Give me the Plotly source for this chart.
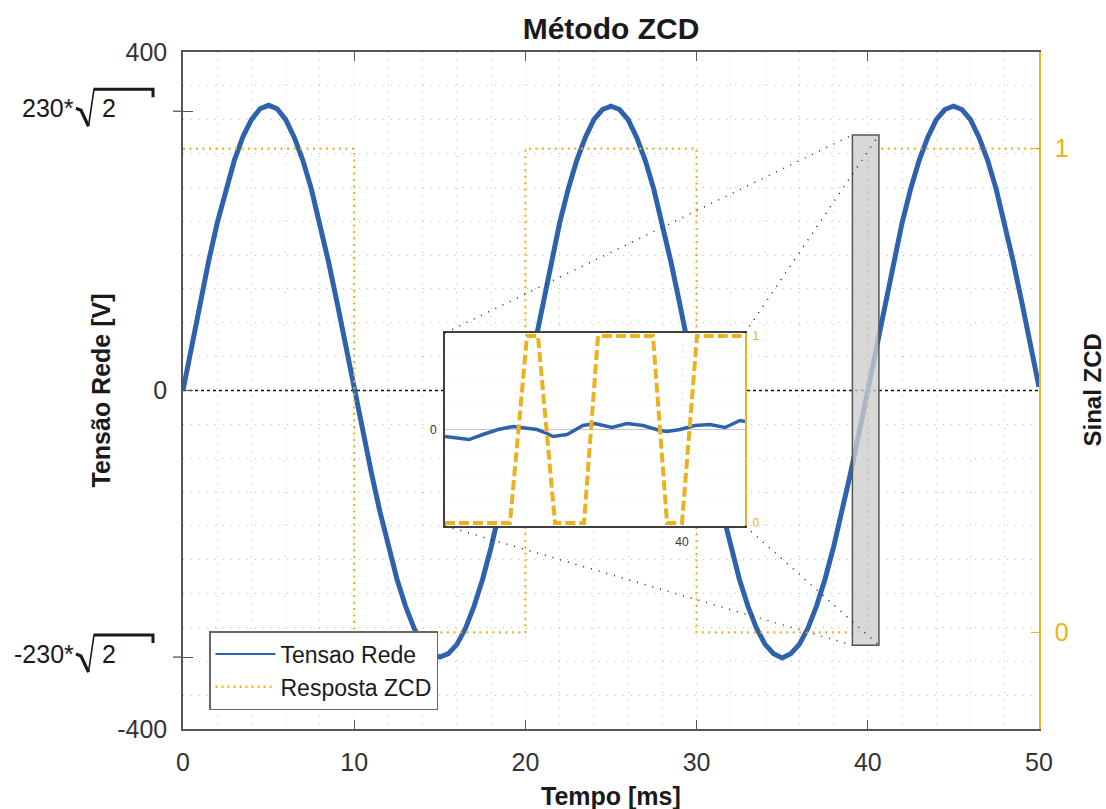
import plotly.graph_objects as go

# ---------------- data ----------------
tempo_ms = [
    0.0, 0.5, 1.0, 1.5, 2.0, 2.5, 3.0, 3.5, 4.0, 4.5, 5.0, 5.5, 6.0, 6.5, 7.0, 7.5, 8.0, 8.5, 9.0, 9.5,
    10.0, 10.5, 11.0, 11.5, 12.0, 12.5, 13.0, 13.5, 14.0, 14.5, 15.0, 15.5, 16.0, 16.5, 17.0, 17.5, 18.0, 18.5, 19.0, 19.5,
    20.0, 20.5, 21.0, 21.5, 22.0, 22.5, 23.0, 23.5, 24.0, 24.5, 25.0, 25.5, 26.0, 26.5, 27.0, 27.5, 28.0, 28.5, 29.0, 29.5,
    30.0, 30.5, 31.0, 31.5, 32.0, 32.5, 33.0, 33.5, 34.0, 34.5, 35.0, 35.5, 36.0, 36.5, 37.0, 37.5, 38.0, 38.5, 39.0, 39.5,
    40.0, 40.5, 41.0, 41.5, 42.0, 42.5, 43.0, 43.5, 44.0, 44.5, 45.0, 45.5, 46.0, 46.5, 47.0, 47.5, 48.0, 48.5, 49.0, 49.5,
    50.0,
]
tensao_rede_v = [
    0, 53, 104, 153, 198, 238, 272, 300, 320, 333, 337, 333, 320, 299, 272, 238, 198, 152, 104, 53,
    0, -49, -97, -143, -185, -223, -255, -281, -300, -311, -315, -311, -300, -281, -255, -223, -185, -143, -97, -49,
    0, 53, 104, 152, 198, 238, 272, 299, 320, 332, 336, 332, 320, 299, 272, 238, 198, 152, 104, 53,
    0, -49, -97, -143, -185, -223, -255, -281, -300, -311, -316, -311, -300, -281, -255, -223, -185, -143, -97, -49,
    0, 53, 104, 152, 198, 238, 272, 299, 320, 332, 336, 332, 320, 299, 272, 238, 198, 152, 104, 53,
    4,
]
zcd_tempo_ms = [0, 10, 10, 20, 20, 30, 30, 40, 40, 50]
zcd_sinal = [1, 1, 0, 0, 1, 1, 0, 0, 1, 1]

# zoomed detail around the 40 ms crossing (inset)
zoom_tempo_rede = [39.9763, 39.9773, 39.9787, 39.9801, 39.9816, 39.9831, 39.9840, 39.9855, 39.9863, 39.9871,
                   39.9885, 39.9901, 39.9913, 39.9930, 39.9945, 39.9961, 39.9978, 39.9985, 39.9998, 40.0013,
                   40.0028, 40.0043, 40.0058, 40.0063]
zoom_tensao_v = [-0.73, -0.83, -1.04, -0.52, 0.0, 0.31, 0.21, 0.0, -0.31, -0.73,
                 -0.52, 0.41, 0.62, 0.21, 0.62, 0.41, -0.10, -0.21, 0.0, 0.41,
                 0.52, 0.21, 0.93, 0.83]
zoom_tempo_zcd = [39.9763, 39.9828, 39.9845, 39.9856, 39.9873, 39.9902, 39.9916, 39.9971, 39.9985, 40.0000,
                  40.0015, 40.0063]
zoom_sinal = [0, 0, 1, 1, 0, 0, 1, 1, 0, 0, 1, 1]

x_tick_vals = [0, 10, 20, 30, 40, 50]
y_tick_vals = [-400, -315, 0, 330, 400]
y_tick_text = ["-400", "", "0", "", "400"]
sqrt_label_vals = [330, -315]
sqrt_label_text = ["230*", "-230*"]
y2_tick_vals = [0, 1]
zoom_x_ticks = [40]
zoom_window_ms = [39.1, 40.65]
zoom_window_v = [-301, 302]

# ---------------- style / layout helpers ----------------
W, H = 1106, 809
L, R, T, B = 183, 1039, 52, 729
FONT = "Liberation Sans, Arial, Helvetica, sans-serif"
BLUE = "#2F62AD"
ORANGE = "#EDB120"
AXC = "#555555"
TXT = "#333333"
GRID = "#c4c4c4"
GDASH = "1px,7px"
YMIN, YMAX = -400, 400


def px_x(px):
    return (px - L) / (R - L)


def px_y(py):
    return (B - py) / (B - T)


def val_to_py(v):
    return B - (v - YMIN) / (YMAX - YMIN) * (B - T)


fig = go.Figure()

# main traces
fig.add_trace(go.Scatter(x=tempo_ms, y=tensao_rede_v, mode="lines", line=dict(color=BLUE, width=5),
                         showlegend=False, xaxis="x", yaxis="y"))
fig.add_trace(go.Scatter(x=zcd_tempo_ms, y=zcd_sinal, mode="lines",
                         line=dict(color=ORANGE, width=2.2, dash="2px,4.5px"),
                         showlegend=False, xaxis="x", yaxis="y2"))
# legend entries
fig.add_trace(go.Scatter(x=[None], y=[None], mode="lines", line=dict(color=BLUE, width=2),
                         name="Tensao Rede", legendgroup="a", xaxis="x", yaxis="y"))
fig.add_trace(go.Scatter(x=[None], y=[None], mode="lines", line=dict(color=ORANGE, width=2.5, dash="2px,4px"),
                         name="Resposta ZCD", legendgroup="b", xaxis="x", yaxis="y"))

# inset traces
fig.add_trace(go.Scatter(x=zoom_tempo_rede, y=zoom_tensao_v, mode="lines", line=dict(color=BLUE, width=3.5),
                         showlegend=False, xaxis="x3", yaxis="y3"))
fig.add_trace(go.Scatter(x=zoom_tempo_zcd, y=zoom_sinal, mode="lines",
                         line=dict(color=ORANGE, width=4, dash="10px,4px"),
                         showlegend=False, xaxis="x3", yaxis="y4"))

inset_dx = [px_x(445), px_x(745)]
inset_dy = [px_y(526), px_y(333)]

tickfont = dict(family=FONT, size=25, color=TXT)

fig.update_layout(
    width=W, height=H,
    margin=dict(l=L, r=W - R, t=T, b=H - B, pad=0),
    paper_bgcolor="white", plot_bgcolor="white",
    font=dict(family=FONT, color=TXT),
    title=dict(text="<b>Método ZCD</b>", x=(L + R) / 2 / W, xanchor="center", y=1 - 28 / H, yanchor="middle",
               font=dict(family=FONT, size=30, color="#1a1a1a")),
    xaxis=dict(domain=[0, 1], range=[0, 50], tickmode="array", tickvals=x_tick_vals,
               ticks="inside", ticklen=9, tickcolor=AXC, tickwidth=1.3,
               showline=True, linecolor=AXC, linewidth=1.5, mirror="ticks",
               showgrid=True, gridcolor=GRID, griddash=GDASH, gridwidth=1,
               minor=dict(tickmode="linear", tick0=0, dtick=2, showgrid=True, gridcolor=GRID,
                          griddash=GDASH, gridwidth=1, ticks=""),
               zeroline=False, tickfont=tickfont, ticklabelstandoff=10),
    yaxis=dict(domain=[0, 1], range=[YMIN, YMAX], tickmode="array", tickvals=y_tick_vals, ticktext=y_tick_text,
               ticks="inside", ticklen=10, tickcolor=AXC, tickwidth=1.3,
               showline=True, linecolor=AXC, linewidth=1.5, mirror=False,
               showgrid=False, zeroline=False,
               minor=dict(tickmode="linear", tick0=0, dtick=40, showgrid=True, gridcolor=GRID,
                          griddash=GDASH, gridwidth=1, ticks=""),
               tickfont=tickfont, ticklabelstandoff=9),
    yaxis2=dict(overlaying="y", side="right", anchor="x", range=[-0.2, 1.2], tickmode="array",
                tickvals=y2_tick_vals, ticks="inside", ticklen=8, tickcolor=ORANGE, tickwidth=1.3,
                showline=True, linecolor=ORANGE, linewidth=1.5, showgrid=False, zeroline=False,
                tickfont=dict(family=FONT, size=25, color=ORANGE), ticklabelstandoff=9),
    xaxis3=dict(domain=inset_dx, anchor="y3", range=[zoom_tempo_rede[0], zoom_tempo_rede[-1]],
                tickmode="array", tickvals=zoom_x_ticks, ticks="", showline=True, linecolor="#404040",
                linewidth=2, mirror=True, showgrid=True, gridcolor="#d0d0d0", griddash="1px,5px",
                zeroline=False, tickfont=dict(family=FONT, size=12, color=TXT), ticklabelstandoff=4),
    yaxis3=dict(domain=inset_dy, anchor="x3", range=[-10, 10], tickmode="array", tickvals=[0],
                ticks="", showline=True, linecolor="#404040", linewidth=2,
                showgrid=False, zeroline=True, zerolinecolor="#c8c8c8", zerolinewidth=1,
                minor=dict(tickmode="linear", tick0=0, dtick=2.5, showgrid=True, gridcolor="#e2e2e2",
                           griddash="1px,4px", ticks=""),
                tickfont=dict(family=FONT, size=12, color=TXT), ticklabelstandoff=4),
    yaxis4=dict(overlaying="y3", side="right", anchor="x3", range=[-0.016, 1.016], tickmode="array",
                tickvals=y2_tick_vals, ticks="", showline=True, linecolor=ORANGE, linewidth=2,
                showgrid=False, zeroline=False,
                tickfont=dict(family=FONT, size=12, color=ORANGE), ticklabelstandoff=3),
    legend=dict(x=px_x(209), y=px_y(631), xanchor="left", yanchor="top",
                bgcolor="white", bordercolor="#666666", borderwidth=1.5,
                font=dict(family=FONT, size=23, color="#1a1a1a"),
                itemwidth=60, tracegroupgap=0, traceorder="grouped"),
    showlegend=True,
)

shapes = []
# black dotted zero line
shapes.append(dict(type="line", xref="x", yref="y", x0=0, x1=50, y0=0, y1=0, layer="between",
                   line=dict(color="#111111", width=1.3, dash="dot")))
# zoom window rectangle
shapes.append(dict(type="rect", xref="x", yref="y", x0=zoom_window_ms[0], x1=zoom_window_ms[1],
                   y0=zoom_window_v[0], y1=zoom_window_v[1], layer="above",
                   fillcolor="rgba(205,205,205,0.78)", line=dict(color="#555555", width=1.5)))
# connectors from inset corners to rectangle corners
rx0, rx1 = zoom_window_ms[0] / 50, zoom_window_ms[1] / 50
ry0 = (zoom_window_v[0] - YMIN) / (YMAX - YMIN)
ry1 = (zoom_window_v[1] - YMIN) / (YMAX - YMIN)
for (ix, iy, qx, qy) in [(inset_dx[0], inset_dy[1], rx0, ry1), (inset_dx[1], inset_dy[1], rx1, ry1),
                         (inset_dx[0], inset_dy[0], rx0, ry0), (inset_dx[1], inset_dy[0], rx1, ry0)]:
    shapes.append(dict(type="line", xref="paper", yref="paper", x0=ix, y0=iy, x1=qx, y1=qy, layer="above",
                       line=dict(color="#222222", width=1.5, dash="1px,7px")))

annotations = []
# 230*sqrt(2) labels with drawn radical
for v, txt in zip(sqrt_label_vals, sqrt_label_text):
    c = val_to_py(v) - 3
    annotations.append(dict(text=txt, xref="paper", yref="paper", x=px_x(76), y=px_y(c), xanchor="right",
                            yanchor="middle", showarrow=False, font=dict(family=FONT, size=25, color="#1a1a1a")))
    annotations.append(dict(text="2", xref="paper", yref="paper", x=px_x(100), y=px_y(c), xanchor="left",
                            yanchor="middle", showarrow=False, font=dict(family=FONT, size=25, color="#1a1a1a")))
    shapes.append(dict(type="path", xref="paper", yref="paper", layer="above",
                       path=f"M {px_x(76)},{px_y(c)} L {px_x(81)},{px_y(c + 2)} L {px_x(88.5)},{px_y(c + 18)}",
                       line=dict(color="#1a1a1a", width=3.2)))
    shapes.append(dict(type="path", xref="paper", yref="paper", layer="above",
                       path=f"M {px_x(88.5)},{px_y(c + 18)} L {px_x(94)},{px_y(c - 19)}",
                       line=dict(color="#1a1a1a", width=1.6)))
    shapes.append(dict(type="path", xref="paper", yref="paper", layer="above",
                       path=f"M {px_x(93.5)},{px_y(c - 19)} L {px_x(153)},{px_y(c - 19)} L {px_x(153)},{px_y(c - 11)}",
                       line=dict(color="#1a1a1a", width=3)))
    # outer part of the crossing tick
    shapes.append(dict(type="line", xref="paper", yref="y", x0=px_x(173), x1=0, y0=v, y1=v,
                       line=dict(color=AXC, width=1.3)))

# axis titles
annotations.append(dict(text="<b>Tempo [ms]</b>", xref="paper", yref="paper", x=0.5, y=px_y(796),
                        xanchor="center", yanchor="middle", showarrow=False,
                        font=dict(family=FONT, size=25, color="#1a1a1a")))
annotations.append(dict(text="<b>Tensão Rede [V]</b>", xref="paper", yref="paper", x=px_x(100), y=0.5,
                        xanchor="center", yanchor="middle", textangle=-90, showarrow=False,
                        font=dict(family=FONT, size=25, color="#1a1a1a")))
annotations.append(dict(text="<b>Sinal ZCD</b>", xref="paper", yref="paper", x=px_x(1092), y=0.5,
                        xanchor="center", yanchor="middle", textangle=-90, showarrow=False,
                        font=dict(family=FONT, size=24, color="#1a1a1a")))

fig.update_layout(shapes=shapes, annotations=annotations)
fig.write_html("out.html")
